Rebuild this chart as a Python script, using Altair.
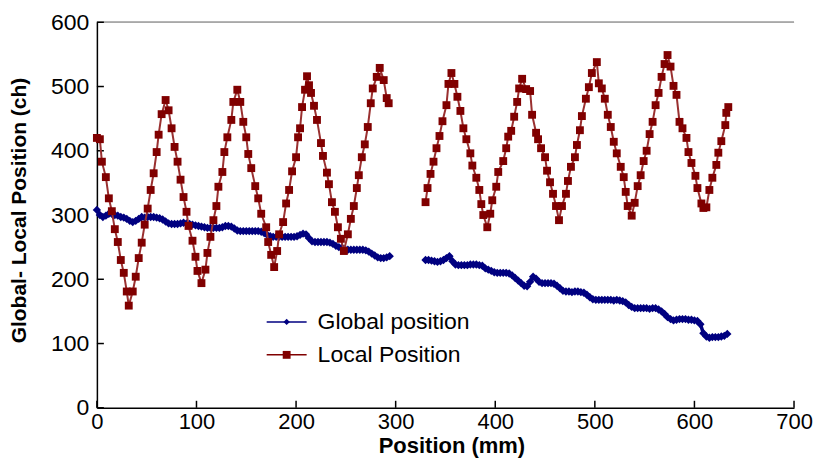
import altair as alt
import pandas as pd

# ---------------- data ----------------
series_names = ["Global position", "Local Position"]

# Local position, first run (mm, ch)
local_x1 = [0, 3, 5, 9, 12, 15, 18, 21, 24, 27,
            30, 32, 36, 39, 42, 45, 48, 51, 54, 57,
            60, 62, 65, 69, 72, 75, 78, 81, 84, 87,
            90, 92, 96, 99, 101, 105, 109, 111, 114, 117,
            120, 122, 126, 128, 131, 135, 137, 141, 144, 147,
            150, 152, 155, 159, 162, 165, 170, 172, 175, 178,
            181, 183, 187, 190, 193, 196, 200, 202, 204, 206,
            209, 211, 213, 215, 218, 221, 225, 227, 231, 233,
            236, 239, 242, 245, 248, 252, 255, 258, 261, 263,
            266, 269, 272, 275, 277, 281, 284, 288, 291, 293]
local_y1 = [420, 418, 383, 359, 326, 306, 278, 258, 230, 210,
            181, 159, 181, 204, 233, 257, 285, 310, 339, 365,
            398, 425, 457, 479, 463, 435, 406, 383, 355, 328,
            305, 283, 260, 235, 213, 194, 215, 241, 266, 292,
            314, 344, 367, 398, 421, 448, 476, 495, 476, 445,
            421, 395, 373, 345, 326, 302, 281, 258, 238, 219,
            244, 270, 289, 318, 339, 368, 390, 421, 435, 468,
            495, 516, 502, 490, 470, 448, 412, 392, 366, 348,
            320, 305, 281, 263, 244, 270, 294, 314, 342, 362,
            390, 410, 437, 474, 497, 515, 529, 510, 482, 474]

# Local position, second run
local_x2 = [330, 332, 335, 338, 341, 344, 347, 351, 353, 356,
            359, 362, 365, 368, 371, 375, 377, 381, 384, 386,
            388, 392, 395, 397, 401, 403, 408, 411, 413, 416,
            419, 422, 424, 427, 431, 435, 437, 441, 443, 446,
            450, 452, 455, 458, 461, 464, 467, 471, 473, 476,
            480, 482, 485, 487, 491, 494, 497, 502, 504, 507,
            510, 513, 516, 519, 522, 526, 529, 531, 533, 537,
            540, 543, 546, 549, 552, 555, 558, 561, 564, 567,
            570, 573, 576, 579, 582, 585, 588, 592, 594, 597,
            601, 603, 607, 609, 612, 615, 618, 622, 624, 627,
            631, 632, 634]
local_y2 = [320, 342, 364, 383, 404, 423, 446, 471, 504, 521,
            504, 484, 462, 435, 418, 396, 377, 358, 339, 317,
            300, 281, 302, 323, 344, 367, 384, 404, 422, 431,
            453, 476, 497, 512, 496, 493, 456, 428, 418, 404,
            390, 369, 351, 333, 314, 292, 314, 333, 353, 375,
            390, 409, 432, 454, 481, 499, 521, 538, 505, 497,
            481, 456, 437, 414, 396, 375, 359, 336, 314, 299,
            319, 345, 362, 384, 400, 426, 445, 471, 490, 515,
            535, 549, 531, 501, 487, 445, 435, 420, 398, 381,
            361, 342, 318, 311, 312, 339, 358, 378, 397, 415,
            440, 459, 468]

# Global position, first run
global_x1 = [0, 3, 6, 9, 12, 15, 18, 21, 24, 27,
             30, 33, 36, 39, 42, 45, 48, 51, 54, 57,
             60, 63, 66, 69, 72, 75, 78, 81, 84, 87,
             90, 93, 96, 99, 102, 105, 108, 111, 114, 117,
             120, 123, 126, 129, 132, 135, 138, 141, 144, 147,
             150, 153, 156, 159, 162, 165, 168, 171, 174, 177,
             180, 183, 186, 189, 192, 195, 198, 201, 204, 207,
             210, 213, 216, 219, 222, 225, 228, 231, 234, 237,
             240, 243, 246, 249, 252, 255, 258, 261, 264, 267,
             270, 273, 276, 279, 282, 285, 288, 291, 294]
global_y1 = [308, 300, 297, 299, 302, 302, 300, 299, 297, 296,
             294, 291, 289, 291, 294, 297, 296, 297, 297, 297,
             296, 295, 293, 290, 287, 286, 286, 286, 287, 288,
             287, 286, 285, 284, 283, 282, 281, 280, 280, 280,
             280, 280, 281, 283, 283, 282, 279, 276, 275, 275,
             275, 275, 275, 275, 275, 274, 272, 269, 267, 266,
             266, 266, 266, 266, 266, 266, 266, 267, 269, 271,
             270, 264, 259, 258, 258, 258, 258, 258, 257, 255,
             252, 250, 249, 247, 246, 246, 246, 246, 246, 246,
             245, 243, 240, 237, 234, 233, 233, 234, 236]

# Global position, second run
global_x2 = [330, 333, 336, 339, 342, 345, 348, 351, 354, 357,
             360, 363, 366, 369, 372, 375, 378, 381, 384, 387,
             390, 393, 396, 399, 402, 405, 408, 411, 414, 417,
             420, 423, 426, 429, 432, 435, 438, 441, 444, 447,
             450, 453, 456, 459, 462, 465, 468, 471, 474, 477,
             480, 483, 486, 489, 492, 495, 498, 501, 504, 507,
             510, 513, 516, 519, 522, 525, 528, 531, 534, 537,
             540, 543, 546, 549, 552, 555, 558, 561, 564, 567,
             570, 573, 576, 579, 582, 585, 588, 591, 594, 597,
             600, 603, 606, 609, 612, 615, 618, 621, 624, 627,
             630, 633]
global_y2 = [230, 230, 229, 228, 227, 228, 230, 233, 236, 228,
             223, 222, 222, 222, 222, 223, 223, 223, 222, 221,
             217, 215, 213, 211, 210, 210, 210, 210, 209, 206,
             202, 198, 194, 190, 189, 196, 204, 201, 196, 194,
             194, 194, 194, 193, 190, 186, 182, 181, 181, 180,
             181, 181, 180, 179, 176, 172, 169, 168, 168, 168,
             168, 168, 168, 167, 168, 167, 166, 164, 160, 157,
             155, 155, 155, 155, 155, 154, 155, 155, 153, 150,
             146, 141, 138, 136, 137, 138, 138, 138, 137, 137,
             136, 135, 130, 116, 111, 109, 110, 110, 110, 111,
             112, 115]

x_ticks = [0, 100, 200, 300, 400, 500, 600, 700]
y_ticks = [0, 100, 200, 300, 400, 500, 600]

# ---------------- tables ----------------
local_df = pd.concat([
    pd.DataFrame({"x": local_x1, "y": local_y1, "seg": 1}),
    pd.DataFrame({"x": local_x2, "y": local_y2, "seg": 2}),
], ignore_index=True)
global_df = pd.concat([
    pd.DataFrame({"x": global_x1, "y": global_y1, "seg": 1}),
    pd.DataFrame({"x": global_x2, "y": global_y2, "seg": 2}),
], ignore_index=True)
xt_df = pd.DataFrame({"x": x_ticks})
yt_df = pd.DataFrame({"y": y_ticks})
legend_df = pd.DataFrame({"series": series_names,
                          "row": list(range(len(series_names)))})

# ---------------- style ----------------
W, H = 698, 386
FONT = "Liberation Sans, Arial, sans-serif"
NAVY = "#000080"
MAROON = "#800000"
MAROON_LINE = "#9a3030"

x_axis = alt.Axis(values=x_ticks, ticks=False, grid=False, domainColor="black",
                  domainWidth=1.5, labelFont=FONT, labelFontSize=22,
                  labelColor="black", labelPadding=4, labelFlush=False,
                  title="Position (mm)", titleFont=FONT, titleFontSize=22,
                  titleFontWeight="bold", titleColor="black",
                  titleX=355, titleY=38, titleBaseline="middle",
                  titleAlign="center")
y_axis = alt.Axis(values=y_ticks, ticks=False, grid=False, domainColor="black",
                  domainWidth=1.5, labelFont=FONT, labelFontSize=23,
                  labelColor="black", labelPadding=8, labelFlush=False,
                  title="Global- Local Position (ch)", titleFont=FONT,
                  titleFontSize=21, titleFontWeight="bold", titleColor="black",
                  titleAngle=270, titleX=-77, titleY=188,
                  titleBaseline="middle", titleAlign="center")

x_scale = alt.Scale(domain=[0, 700], nice=False, zero=True)
y_scale = alt.Scale(domain=[0, 600], nice=False, zero=True)
x_enc = alt.X("x:Q", scale=x_scale, axis=x_axis)
y_enc = alt.Y("y:Q", scale=y_scale, axis=y_axis)

# ---------------- main layers ----------------
top_line = alt.Chart(yt_df).mark_rule(color="#a8a8a8", strokeWidth=1).encode(
    y=alt.datum(y_ticks[-1], scale=y_scale, axis=y_axis),
    x=alt.value(0), x2=alt.value(W))

x_tick_marks = alt.Chart(xt_df).mark_rule(color="black", strokeWidth=1.5).encode(
    x=x_enc, y=alt.value(H), y2=alt.value(H - 7))
y_tick_marks = alt.Chart(yt_df).mark_rule(color="black", strokeWidth=1.5).encode(
    y=y_enc, x=alt.value(0), x2=alt.value(7))

g_line = alt.Chart(global_df).mark_line(color=NAVY, strokeWidth=3.5).encode(
    x=x_enc, y=y_enc, detail="seg:N")
g_pts = alt.Chart(global_df).mark_point(shape="diamond", filled=True, size=70,
                                        color=NAVY, opacity=1).encode(
    x=x_enc, y=y_enc)
l_line = alt.Chart(local_df).mark_line(color=MAROON_LINE, strokeWidth=2).encode(
    x=x_enc, y=y_enc, detail="seg:N")
l_pts = alt.Chart(local_df).mark_point(shape="square", filled=True, size=62,
                                       color=MAROON, opacity=1).encode(
    x=x_enc, y=y_enc)

main = alt.layer(top_line, x_tick_marks, y_tick_marks,
                 g_line, g_pts, l_line, l_pts)

# ---------------- legend (inside plot) ----------------
ly = alt.Y("row:Q", scale=alt.Scale(domain=[0, 1], range=[300, 333]), axis=None)
lcolor = alt.Color("series:N", scale=alt.Scale(domain=series_names,
                                                range=[NAVY, MAROON]), legend=None)
lshape = alt.Shape("series:N", scale=alt.Scale(domain=series_names,
                                                range=["diamond", "square"]), legend=None)
lsize = alt.Size("series:N", scale=alt.Scale(domain=series_names,
                                              range=[40, 62]), legend=None)

leg_rule = alt.Chart(legend_df).mark_rule(strokeWidth=1.5).encode(
    y=ly, x=alt.value(170), x2=alt.value(210), color=lcolor)
leg_pt = alt.Chart(legend_df).mark_point(filled=True, opacity=1).encode(
    y=ly, x=alt.value(190), color=lcolor, shape=lshape, size=lsize)
leg_text = alt.Chart(legend_df).mark_text(align="left", baseline="middle",
                                           font=FONT, fontSize=23,
                                           color="black").encode(
    y=ly, x=alt.value(221), text="series:N")

legend = alt.layer(leg_rule, leg_pt, leg_text)

chart = alt.layer(main, legend).resolve_scale(y="independent").properties(
    width=W, height=H,
    autosize=alt.AutoSizeParams(type="none"),
    padding={"left": 89, "top": 14, "right": 20, "bottom": 58},
    background="white",
).configure_view(stroke="transparent")

chart.save("out.html", embed_options={"renderer": "svg", "actions": False})
